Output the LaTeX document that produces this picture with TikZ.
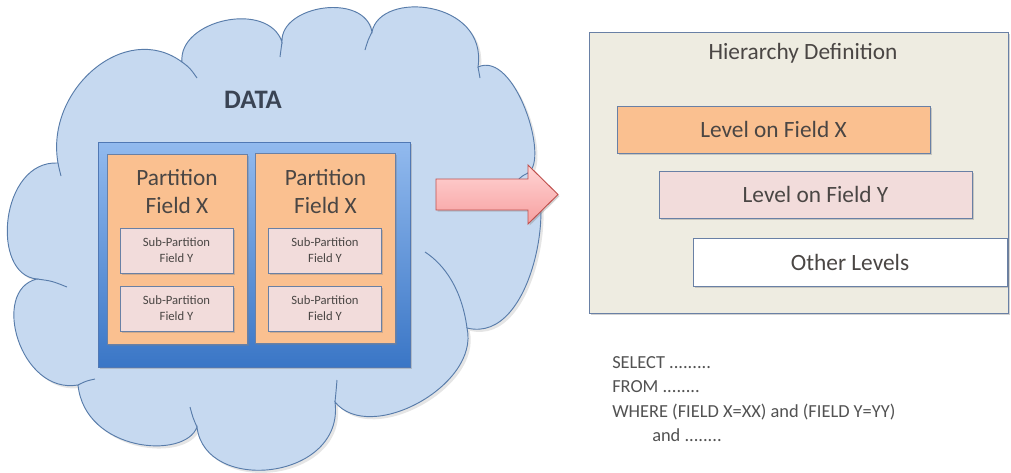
\documentclass[tikz,border=0pt]{standalone}
\usepackage{fontspec}
\setmainfont{Carlito}
\usetikzlibrary{shadows}

\definecolor{cloudfill}{RGB}{198,217,240}
\definecolor{cloudline}{RGB}{88,124,170}
\definecolor{tabletop}{RGB}{146,186,238}
\definecolor{tablebot}{RGB}{58,118,198}
\definecolor{tableline}{RGB}{80,120,180}
\definecolor{partfill}{RGB}{250,192,144}
\definecolor{subfill}{RGB}{242,220,219}
\definecolor{hierfill}{RGB}{238,236,225}
\definecolor{boxline}{RGB}{105,128,165}
\definecolor{arrowtop}{RGB}{255,212,212}
\definecolor{arrowbot}{RGB}{247,160,160}
\definecolor{arrowline}{RGB}{192,80,77}
\definecolor{txt}{RGB}{74,70,68}
\definecolor{datatxt}{RGB}{58,68,84}

\newdimen\pix \pix=0.75pt

\tikzset{
    shade box/.style={drop shadow={shadow xshift=1.2pt,shadow yshift=-1.2pt,opacity=.35}},
    partbox/.style={draw=boxline,fill=partfill,line width=.6pt,
        minimum width=140\pix,minimum height=190\pix,shade box},
    subbox/.style={draw=boxline,fill=subfill,line width=.7pt,text=txt,
        minimum width=113\pix,minimum height=45\pix,align=center,
        font=\fontsize{9.5}{12}\selectfont,shade box},
    levelbox/.style={draw=boxline,line width=.7pt,text=txt,
        minimum width=313\pix,minimum height=47\pix,
        font=\fontsize{17.5}{20}\selectfont,shade box},
    title/.style={text=txt,align=center,font=\fontsize{17.5}{20.5}\selectfont},
}

\begin{document}
\begin{tikzpicture}[x=0.75pt,y=-0.75pt]
    \fill[white] (0,0) rectangle (1011,472);
    \useasboundingbox (0,0) rectangle (1011,472);

    % the cloud
    \draw[fill=cloudfill,draw=cloudline,line width=.7pt,
        drop shadow={shadow xshift=2pt,shadow yshift=-2pt,opacity=.2}]
        (58,163)
        .. controls (45,90) and (125,20) .. (182,62)
        .. controls (178,20) and (268,0) .. (282,42)
        .. controls (280,5) and (365,-8) .. (372,32)
        .. controls (380,-10) and (488,0) .. (478,67)
        .. controls (515,50) and (550,160) .. (528,173)
        .. controls (558,185) and (535,345) .. (467,328)
        .. controls (480,385) and (370,445) .. (335,402)
        .. controls (345,480) and (205,495) .. (197,427)
        .. controls (185,460) and (85,452) .. (78,385)
        .. controls (20,395) and (-10,290) .. (37,279)
        .. controls (-10,275) and (0,160) .. (58,163) -- cycle;
    % inner arcs of the bumps
    \begin{scope}[draw=cloudline,line width=.7pt]
        \draw (58,163) .. controls (59,168) .. (61,176);
        \draw (182,62) .. controls (190,68) .. (197,78);
        \draw (282,42) .. controls (281,50) .. (280,57);
        \draw (372,32) .. controls (368,40) .. (365,50);
        \draw (478,67) .. controls (479,72) .. (480,78);
        \draw (528,173) .. controls (522,176) .. (517,181);
        \draw (467,328) .. controls (462,290) and (445,265) .. (425,252);
        \draw (335,402) .. controls (336,392) .. (337,380);
        \draw (197,427) .. controls (193,418) .. (190,407);
        \draw (78,385) .. controls (86,381) .. (95,379);
        \draw (37,279) .. controls (52,281) .. (67,287);
    \end{scope}

    \node[text=datatxt,font=\fontsize{20}{24}\selectfont\bfseries] (data) at (253,100) {DATA};

    % table with its partitions
    \node[draw=tableline,line width=.7pt,top color=tabletop,bottom color=tablebot,
        minimum width=312\pix,minimum height=225\pix,shade box] (table) at (254,254.5) {};
    \node[partbox] (part1) at (177,249) {};
    \node[partbox] (part2) at (325.5,248.5) {};
    \node[title] (part1 title) at (177,191.5) {Partition\\Field X};
    \node[title] (part2 title) at (325.5,191.5) {Partition\\Field X};
    \foreach \x/\n in {176.5/1,325/2}{
        \node[subbox] (sub\n a) at (\x,250.5) {Sub-Partition\\Field Y};
        \node[subbox] (sub\n b) at (\x,308.5) {Sub-Partition\\Field Y};
    }

    % block arrow
    \draw[draw=arrowline,line width=.7pt,top color=arrowtop,bottom color=arrowbot,shade box]
        (436,179) -- (528,179) -- (528,165) -- (558,194.5)
        -- (528,224) -- (528,210) -- (436,210) -- cycle;

    % hierarchy
    \node[draw=boxline,line width=.7pt,fill=hierfill,
        minimum width=419\pix,minimum height=281\pix,shade box] (hier) at (798.5,172.5) {};
    \node[title] (hier title) at (803,53) {Hierarchy Definition};
    \node[levelbox,fill=partfill] (level x) at (773.5,129.5) {Level on Field X};
    \node[levelbox,fill=subfill] (level y) at (815.5,194.5) {Level on Field Y};
    \node[levelbox,fill=white,minimum width=314\pix,minimum height=48\pix] (others) at (850,262) {Other Levels};

    % query
    \node[anchor=north west,align=left,text=black!68,inner sep=0pt,
        font=\fontsize{13.8}{18.4}\selectfont] (query) at (612,356) {%
        SELECT .........\\
        FROM ........\\
        WHERE (FIELD X=XX) and (FIELD Y=YY)\\
        \hspace*{30pt}and ........};
\end{tikzpicture}
\end{document}
